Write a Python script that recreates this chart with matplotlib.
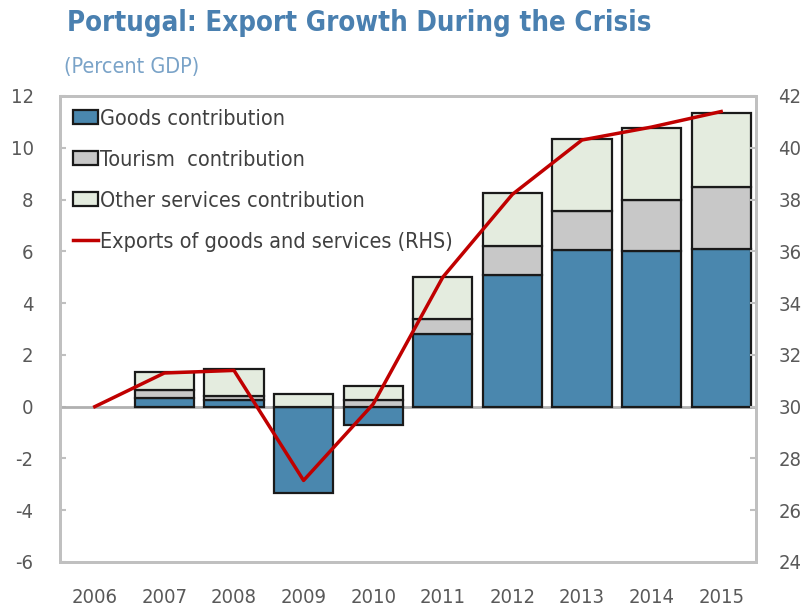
import matplotlib.pyplot as plt
import numpy as np
from matplotlib.patches import Patch
from matplotlib.lines import Line2D

years = ["2006", "2007", "2008", "2009", "2010", "2011", "2012", "2013", "2014", "2015"]
goods = [0.0, 0.35, 0.27, -3.33, -0.70, 2.80, 5.10, 6.07, 6.00, 6.10]
tourism = [0.0, 0.28, 0.15, 0.0, 0.27, 0.60, 1.10, 1.48, 2.00, 2.40]
other = [0.0, 0.72, 1.03, 0.49, 0.54, 1.60, 2.05, 2.77, 2.78, 2.86]
exports = [30.0, 31.3, 31.4, 27.15, 30.1, 35.0, 38.2, 40.3, 40.8, 41.4]

labels = ["Goods contribution", "Tourism  contribution",
          "Other services contribution", "Exports of goods and services (RHS)"]
colors = ["#4a87ae", "#c8c8c8", "#e4ecdf"]
line_color = "#c00000"
frame_gray = "#c0c0c0"
text_gray = "#595959"

plt.rcParams['font.family'] = ['DejaVu Sans']
plt.rcParams['font.stretch'] = 'condensed'
plt.rcParams['axes.unicode_minus'] = False

fig = plt.figure(figsize=(8.05, 6.13), dpi=100)
ax = fig.add_axes([0.0745, 0.0832, 0.8646, 0.7602])
ax2 = ax.twinx()

x = np.arange(len(years))
g = np.array(goods)
t = np.array(tourism)
o = np.array(other)
pos_base = np.where(g > 0, g, 0)
w = 0.85
has_bar = x > 0
ax.bar(x[has_bar], g[has_bar], w, color=colors[0], edgecolor="#1a1a1a", linewidth=1.6, zorder=3)
ax.bar(x[has_bar], t[has_bar], w, bottom=pos_base[has_bar], color=colors[1], edgecolor="#1a1a1a", linewidth=1.6, zorder=3)
ax.bar(x[has_bar], o[has_bar], w, bottom=(pos_base + t)[has_bar], color=colors[2], edgecolor="#1a1a1a", linewidth=1.6, zorder=3)
ax.axhline(0, color="#b0b0b0", linewidth=2, zorder=2)

ax2.plot(x, exports, color=line_color, linewidth=2.5)

ax.set_xlim(-0.5, 9.5)
ax.set_ylim(-6, 12)
ax2.set_ylim(24, 42)
ax.set_yticks(np.arange(-6, 13, 2))
ax2.set_yticks(np.arange(24, 43, 2))
ax.set_xticks(x)
ax.set_xticklabels(years)

for a in (ax, ax2):
    for s in a.spines.values():
        s.set_color(frame_gray)
        s.set_linewidth(2)
ax.tick_params(axis='y', direction='in', length=4, color=frame_gray, width=1.5,
               pad=19, labelsize=14.5, labelcolor=text_gray)
ax2.tick_params(axis='y', direction='in', length=4, color=frame_gray, width=1.5,
                pad=16, labelsize=14.5, labelcolor=text_gray)
ax.tick_params(axis='x', length=0, pad=19, labelsize=14.5, labelcolor=text_gray)

handles = [Patch(facecolor=c, edgecolor="#1a1a1a", linewidth=1.6) for c in colors]
handles.append(Line2D([0], [0], color=line_color, linewidth=2.5))
ax2.legend(handles, labels, loc="upper left", bbox_to_anchor=(0.0, 1.0), frameon=False,
           fontsize=15.5, labelcolor="#404040", labelspacing=0.97, handlelength=1.15,
           handleheight=0.6, handletextpad=0.1, borderaxespad=0.2)

fig.text(0.083, 0.962, "Portugal: Export Growth During the Crisis", fontsize=19.8,
         fontweight="bold", color="#4a80b0", va="center")
fig.text(0.080, 0.891, "(Percent GDP)", fontsize=15.5, color="#7aa3c8", va="center")

fig.savefig("out.png", dpi=100)
